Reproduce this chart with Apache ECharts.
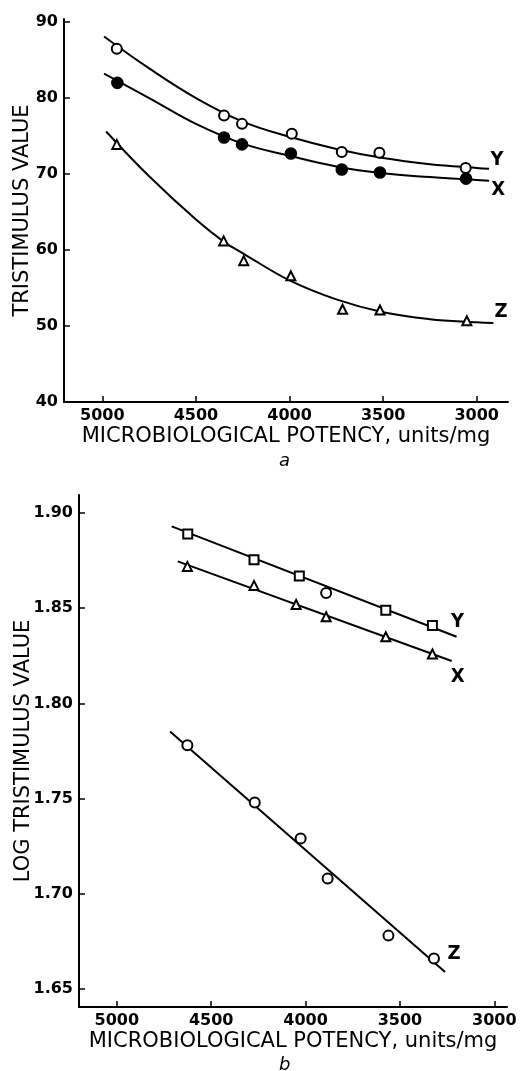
<!DOCTYPE html>
<html>
<head>
<meta charset="utf-8">
<script src="https://cdn.jsdelivr.net/npm/echarts@6/dist/echarts.min.js"></script>
<style>
html,body{margin:0;padding:0;background:#fff;}
#c{width:521px;height:1071px;}
</style>
</head>
<body>
<div id="c"></div>
<script>
// ---- Panel a: tristimulus value vs potency ----
const potencyA_Y = [4923, 4350, 4254, 3988, 3721, 3520, 3059];
const valuesA_Y  = [86.5, 77.7, 76.6, 75.3, 72.9, 72.8, 70.8];
const potencyA_X = [4920, 4350, 4254, 3993, 3721, 3517, 3057];
const valuesA_X  = [82.0, 74.8, 73.9, 72.7, 70.6, 70.2, 69.4];
const potencyA_Z = [4923, 4352, 4245, 3993, 3717, 3517, 3053];
const valuesA_Z  = [73.9, 61.2, 58.6, 56.6, 52.2, 52.1, 50.7];

// fitted curves
const fitA_potencyXY = [4991, 4750, 4500, 4250, 4000, 3750, 3500, 3250, 3000, 2934];
const fitA_Y = [88.1, 83.9, 80.0, 76.9, 74.9, 73.3, 72.1, 71.3, 70.8, 70.7];
const fitA_X = [83.2, 80.0, 76.6, 74.0, 72.4, 71.0, 70.1, 69.6, 69.2, 69.1];
const fitA_potencyZ = [4980, 4750, 4500, 4352, 4245, 4000, 3750, 3500, 3250, 3000, 2911];
const fitA_Z = [75.6, 69.7, 64.0, 61.1, 59.5, 56.0, 53.5, 51.8, 50.9, 50.5, 50.4];

const ticksA_x = [3000, 3500, 4000, 4500, 5000];

// ---- Panel b: log tristimulus value vs potency ----
const potencyB_Y = [4624, 4273, 4033, 3891, 3575, 3328];
const valuesB_Y  = [1.889, 1.8755, 1.867, 1.858, 1.849, 1.841];
const potencyB_X = [4626, 4273, 4050, 3891, 3575, 3328];
const valuesB_X  = [1.872, 1.862, 1.852, 1.8455, 1.835, 1.826];
const potencyB_Z = [4626, 4269, 4026, 3883, 3561, 3320];
const valuesB_Z  = [1.778, 1.748, 1.729, 1.708, 1.678, 1.666];

const fitB_potencyY = [4709, 3200];
const fitB_Y = [1.893, 1.835];
const fitB_potencyX = [4677, 3226];
const fitB_X = [1.8746, 1.8223];
const fitB_potencyZ = [4718, 3261];
const fitB_Z = [1.7852, 1.6589];

const ticksB_x = [3000, 3500, 4000, 4500, 5000];
const ticksB_y = [1.65, 1.70, 1.75, 1.80, 1.85, 1.90];

const zip = (a, b) => a.map((v, i) => [v, b[i]]);

const tickFont = {fontFamily: 'DejaVu Sans', fontWeight: 'bold', fontSize: 16, color: '#000'};
const nameFont = {fontFamily: 'DejaVu Sans', fontSize: 21, color: '#000'};
const seriesLabelFont = {fontFamily: "'DejaVu Sans Condensed','DejaVu Sans'", fontWeight: 'bold', fontSize: 20, color: '#000'};

function xAxisDef(grid, min, max, ticks) {
  return {
    type: 'value', gridIndex: grid, inverse: true, min: min, max: max,
    name: 'MICROBIOLOGICAL POTENCY, units/mg', nameLocation: 'middle', nameGap: 24,
    nameMoveOverlap: false,
    nameTextStyle: nameFont,
    axisLine: {onZero: false, lineStyle: {color: '#000', width: 2}},
    axisTick: {inside: true, length: 6, customValues: ticks, lineStyle: {color: '#000', width: 1.5}},
    axisLabel: {customValues: ticks, margin: 6, formatter: v => String(Math.round(v)), ...tickFont},
    splitLine: {show: false}
  };
}

function fitLine(grid, data, label, offset, smooth) {
  return {
    type: 'line', xAxisIndex: grid, yAxisIndex: grid, data: data,
    smooth: smooth, showSymbol: false, silent: true, z: 2,
    lineStyle: {color: '#000', width: 2},
    endLabel: {show: true, formatter: label, align: 'center', verticalAlign: 'middle', distance: 0, offset: offset, ...seriesLabelFont},
    animation: false
  };
}

function points(grid, data, symbol, size) {
  return {
    type: 'scatter', xAxisIndex: grid, yAxisIndex: grid, data: data,
    symbol: symbol, symbolSize: size, z: 3,
    itemStyle: {color: '#000', borderColor: '#000', borderWidth: 1.6, opacity: 1},
    animation: false
  };
}

const bY = zip(potencyB_Y, valuesB_Y).map((p, i) => i === 3 ? {value: p, symbol: 'emptyCircle', symbolSize: 10} : p);

const option = {
  backgroundColor: '#fff',
  animation: false,
  grid: [
    {left: 64, top: 19, width: 444, height: 383, containLabel: false, outerBoundsMode: 'none'},
    {left: 79, top: 495, width: 428, height: 512, containLabel: false, outerBoundsMode: 'none'}
  ],
  xAxis: [
    xAxisDef(0, 2833, 5205, ticksA_x),
    xAxisDef(1, 2933, 5200, ticksB_x)
  ],
  yAxis: [
    {
      type: 'value', gridIndex: 0, min: 40, max: 90.4, interval: 10,
      name: 'TRISTIMULUS VALUE', nameLocation: 'middle', nameGap: 31, nameMoveOverlap: false,
      nameTextStyle: nameFont,
      axisLine: {onZero: false, lineStyle: {color: '#000', width: 2}},
      axisTick: {inside: true, length: 6, lineStyle: {color: '#000', width: 1.5}},
      axisLabel: {margin: 6, ...tickFont},
      splitLine: {show: false}
    },
    {
      type: 'value', gridIndex: 1, min: 1.6405, max: 1.9095,
      name: 'LOG TRISTIMULUS VALUE', nameLocation: 'middle', nameGap: 45, nameMoveOverlap: false,
      nameTextStyle: nameFont,
      axisLine: {onZero: false, lineStyle: {color: '#000', width: 2}},
      axisTick: {inside: true, length: 6, customValues: ticksB_y, lineStyle: {color: '#000', width: 1.5}},
      axisLabel: {customValues: ticksB_y, margin: 6, formatter: v => v.toFixed(2), ...tickFont},
      splitLine: {show: false}
    }
  ],
  graphic: [
    {type: 'text', left: 279, top: 452, style: {text: 'a', fontFamily: 'DejaVu Sans', fontStyle: 'italic', fontSize: 18, fill: '#000'}},
    {type: 'text', left: 279, top: 1056, style: {text: 'b', fontFamily: 'DejaVu Sans', fontStyle: 'italic', fontSize: 18, fill: '#000'}}
  ],
  series: [
    fitLine(0, zip(fitA_potencyXY, fitA_Y), 'Y', [8, -8.5], 0.4),
    fitLine(0, zip(fitA_potencyXY, fitA_X), 'X', [9, 9], 0.4),
    fitLine(0, zip(fitA_potencyZ, fitA_Z), 'Z', [7.5, -11.5], 0.4),
    points(0, zip(potencyA_Y, valuesA_Y), 'emptyCircle', 10),
    points(0, zip(potencyA_X, valuesA_X), 'circle', 11),
    points(0, zip(potencyA_Z, valuesA_Z), 'emptyTriangle', 9),

    fitLine(1, zip(fitB_potencyY, fitB_Y), 'Y', [1, -15], false),
    fitLine(1, zip(fitB_potencyX, fitB_X), 'X', [6, 16], false),
    fitLine(1, zip(fitB_potencyZ, fitB_Z), 'Z', [9, -18.5], false),
    points(1, bY, 'emptyRect', 9),
    points(1, zip(potencyB_X, valuesB_X), 'emptyTriangle', 9),
    points(1, zip(potencyB_Z, valuesB_Z), 'emptyCircle', 10)
  ]
};

const chart = echarts.init(document.getElementById('c'), null, {renderer: 'canvas'});
chart.setOption(option);
</script>
</body>
</html>
